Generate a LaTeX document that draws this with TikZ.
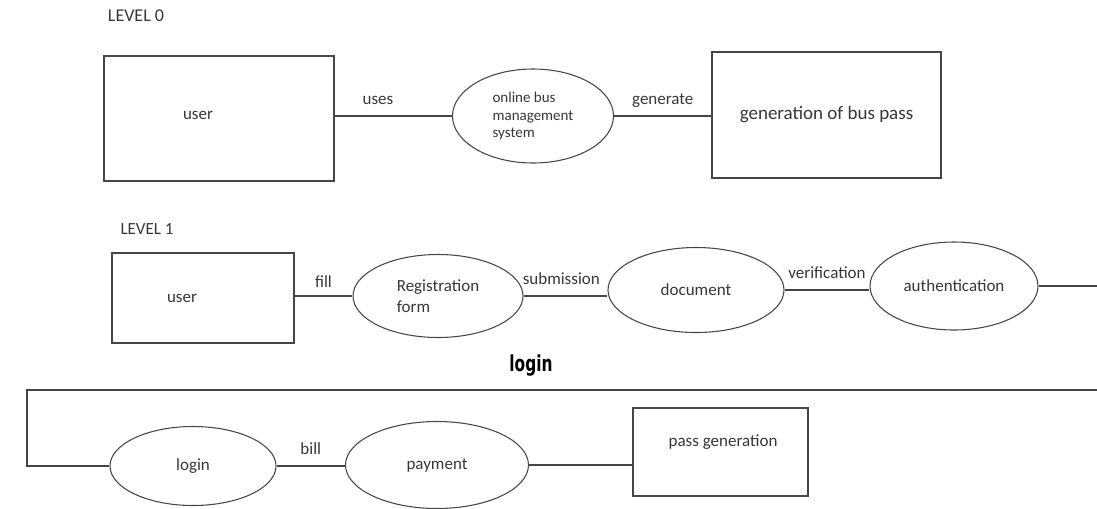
\documentclass[tikz,border=0pt]{standalone}
\usepackage{fontspec}
\setmainfont{Carlito}
\newfontfamily\loginfont{DejaVu Sans}
\usepackage{graphicx}
\usepackage{tikz}
\usetikzlibrary{shapes.geometric,positioning}
\usepackage{xcolor}
\definecolor{Ink}{RGB}{55,55,55}
\definecolor{Wire}{RGB}{70,70,70}

\begin{document}
\begin{tikzpicture}[x=0.75pt,y=-0.75pt,
  txt/.style={font=\fontsize{12.75}{15}\selectfont, text=Ink, inner sep=1pt},
  lbl/.style={txt, above=7pt, text depth=0pt},
  wh/.style 2 args={minimum width=#1*0.75pt, minimum height=#2*0.75pt},
  box/.style={draw=Wire, line width=0.8pt, rectangle, inner sep=0pt, text=Ink},
  proc/.style={draw=Wire, line width=0.8pt, ellipse, inner sep=0pt, text=Ink,
    align=left, font=\fontsize{12.75}{15.75}\selectfont},
  flow/.style={Wire, line width=0.8pt}]
\useasboundingbox (0,0) rectangle (1097,508);
%
% level 0
\node[txt, font=\fontsize{13.5}{15}\selectfont] (lvzero) at (136,16) {LEVEL 0};
\node[box, wh={230}{125}] (userA) at (219,118.5) {};
\node[txt] (userAt) at (198,115) {user};
\node[proc, wh={161}{94}, font=\fontsize{11.25}{13}\selectfont] (obms) at (533,116)
  {online bus\\management\\system};
\node[box, wh={229}{126}, font=\fontsize{14.25}{16}\selectfont] (gbp) at (826.5,115)
  {generation of bus pass};
\draw[flow] (userA.east |- obms.west) -- node[lbl, pos=.37] (usesL) {uses} (obms.west);
\draw[flow] (obms.east) -- node[lbl, pos=.5] (genL) {generate} (obms.east -| gbp.west);
%
% level 1
\node[txt] (lvone) at (147,229) {LEVEL 1};
\node[box, wh={182}{90}] (userB) at (203,298) {};
\node[txt] (userBt) at (182,298) {user};
\node[proc, wh={170}{83}] (regf) at (438,296) {Registration\\form};
\node[proc, wh={176}{85}] (docu) at (696,290) {document};
\node[proc, wh={168}{88}] (auth) at (954,286) {authentication};
\coordinate (edgeR) at (1097,286);
\draw[flow] (userB.east |- regf.west) -- node[lbl, above=5pt] (fillL) {fill} (regf.west);
\draw[flow] (regf.east) -- node[lbl, pos=.45] (subL) {submission} (regf.east -| docu.west);
\draw[flow] (docu.east) -- node[lbl] (verL) {verification} (docu.east -| auth.west);
\draw[flow] (auth.east) -- (edgeR);
%
% login
\node[inner sep=0pt, text=black] (loginH) at (531,366)
  {\scalebox{0.7}[1]{\loginfont\bfseries\fontsize{16.5}{18}\selectfont login}};
\coordinate (edgeB) at (1097,390);
\coordinate (edgeL) at (27,390);
\node[proc, wh={166}{79}] (logn) at (193,466) {login};
\node[proc, wh={183}{87}] (paym) at (437,465) {payment};
\node[box, wh={175}{88}] (pgen) at (720.5,452) {};
\node[txt] (pgent) at (723,442) {pass generation};
\draw[flow] (edgeB) -- (edgeL) |- (logn.west);
\draw[flow] (logn.east) -- node[lbl] (billL) {bill} (logn.east -| paym.west);
\draw[flow] (paym.east) -- (paym.east -| pgen.west);
%
\end{tikzpicture}
\end{document}
